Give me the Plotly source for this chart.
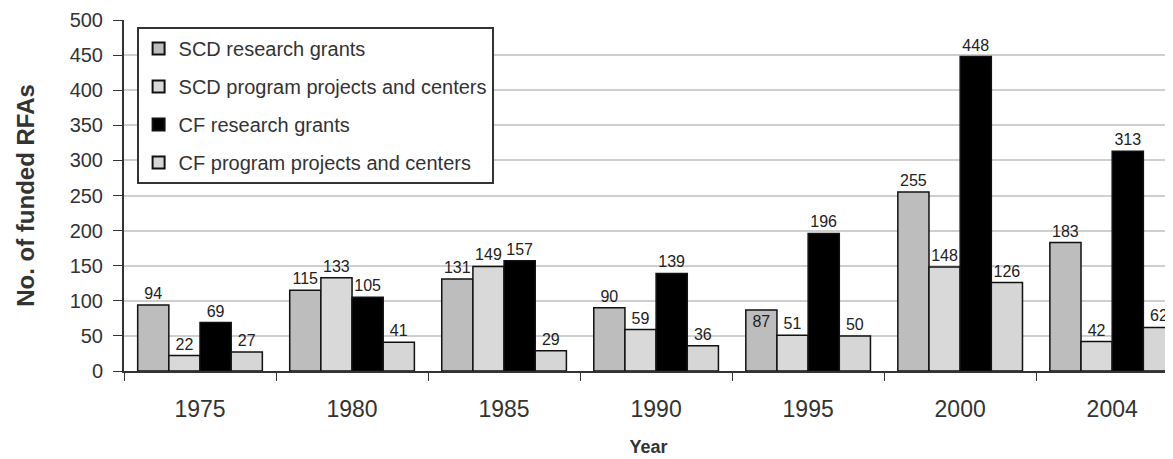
import plotly.graph_objects as go

years = ["1975", "1980", "1985", "1990", "1995", "2000", "2004"]
scd_research = [94, 115, 131, 90, 87, 255, 183]
scd_program = [22, 133, 149, 59, 51, 148, 42]
cf_research = [69, 105, 157, 139, 196, 448, 313]
cf_program = [27, 41, 29, 36, 50, 126, 62]

series = [
    ("SCD research grants", scd_research, "#bdbdbd"),
    ("SCD program projects and centers", scd_program, "#d9d9d9"),
    ("CF research grants", cf_research, "#000000"),
    ("CF program projects and centers", cf_program, "#d6d6d6"),
]

FONT = "Liberation Sans, Arial, sans-serif"
fig = go.Figure()
for i, (name, vals, col) in enumerate(series):
    tp = ["outside"] * len(vals)
    if name == "SCD research grants":
        tp[4] = "inside"
    fig.add_trace(go.Bar(
        x=years, y=vals, name=name, legendgroup=f"g{i}",
        marker=dict(color=col, line=dict(color="#111111", width=1.5)),
        text=[str(v) for v in vals], textposition=tp,
        insidetextanchor="end",
        textfont=dict(family=FONT, size=16, color="#222222"),
        cliponaxis=False,
    ))

fig.update_layout(
    width=1165, height=451,
    margin=dict(l=116, r=0, t=12, b=88, autoexpand=False),
    barmode="group", bargap=0.18, bargroupgap=0,
    plot_bgcolor="white", paper_bgcolor="white",
    font=dict(family=FONT, color="#333333"),
    legend=dict(
        x=0.012, y=0.98, xanchor="left", yanchor="top",
        bgcolor="white", bordercolor="#333333", borderwidth=2,
        font=dict(family=FONT, size=20, color="#333333"),
        itemsizing="constant", tracegroupgap=9,
    ),
)
fig.update_xaxes(
    range=[-0.5, 6.4], automargin=False,
    showline=True, linecolor="#333333", linewidth=2,
    ticks="outside", tickson="boundaries", ticklen=8, tickcolor="#333333",
    tickfont=dict(size=23, family=FONT, color="#333333"),
    ticklabelstandoff=16,
    title=dict(text="<b>Year</b>", font=dict(size=18, family=FONT, color="#333333"), standoff=20),
)
fig.update_yaxes(
    range=[0, 500], dtick=50, automargin=False,
    showline=True, linecolor="#333333", linewidth=2,
    ticks="outside", ticklen=9, tickcolor="#333333",
    ticklabelstandoff=6,
    showgrid=True, gridcolor="#cfcfcf", gridwidth=1.5,
    tickfont=dict(size=20, family=FONT, color="#333333"),
    title=dict(text="<b>No. of funded RFAs</b>", font=dict(size=24, family=FONT, color="#333333"), standoff=28),
    zeroline=False,
)
fig.write_html("out.html")
